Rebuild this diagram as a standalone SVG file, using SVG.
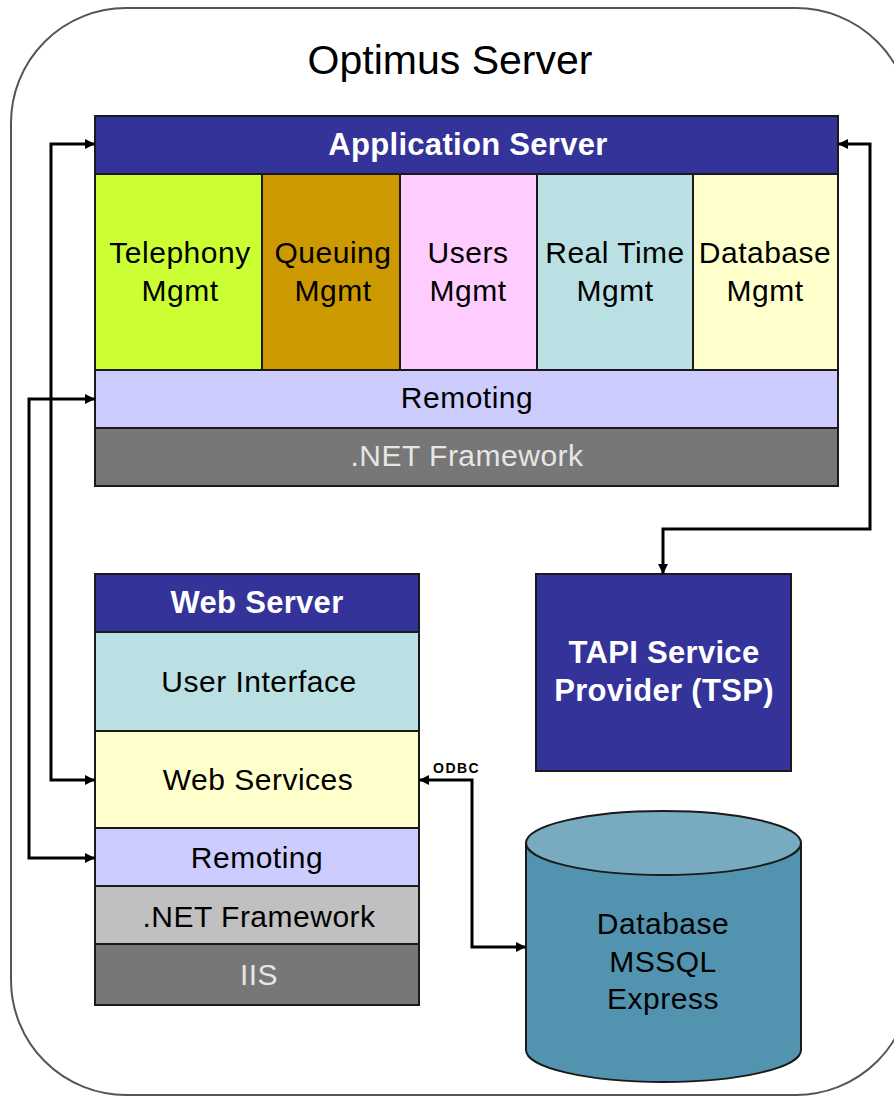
<svg xmlns="http://www.w3.org/2000/svg" width="894" height="1097" viewBox="0 0 894 1097">
<defs>
<marker id="ah" viewBox="0 0 10 10" refX="10" refY="5" markerWidth="10" markerHeight="10" markerUnits="userSpaceOnUse" orient="auto-start-reverse">
<path d="M0,0 L10,5 L0,10 z" fill="#000"/>
</marker>
<style>
.box{stroke:#1a1a1a;stroke-width:2}
.t{font-family:"Liberation Sans",Arial,sans-serif;font-size:30px;letter-spacing:0.5px;fill:#000;text-anchor:middle}
.w{fill:#fff;font-weight:bold;font-size:31px;letter-spacing:0.3px}
.lt{fill:#e6e6e6}
.c{fill:none;stroke:#000;stroke-width:3;marker-end:url(#ah);marker-start:url(#ah)}
</style>
</defs>
<rect width="894" height="1097" fill="#fff"/>
<g id="optimus-server">
<rect x="11" y="8" width="900" height="1087" rx="115" ry="115" fill="#fff" stroke="#555" stroke-width="2"/>
<text class="t" x="450" y="74" style="font-size:41px;letter-spacing:0">Optimus Server</text>
</g>
<g id="application-server">
<rect class="box" x="95" y="116" width="743" height="58" fill="#333399"/>
<text class="t w" x="468" y="155">Application Server</text>
<rect class="box" x="95" y="174" width="167" height="196" fill="#CCFF33"/>
<text class="t" x="180" y="263">Telephony</text><text class="t" x="180" y="301">Mgmt</text>
<rect class="box" x="262" y="174" width="138" height="196" fill="#CC9900"/>
<text class="t" x="333" y="263">Queuing</text><text class="t" x="333" y="301">Mgmt</text>
<rect class="box" x="400" y="174" width="137" height="196" fill="#FFCCFF"/>
<text class="t" x="468" y="263">Users</text><text class="t" x="468" y="301">Mgmt</text>
<rect class="box" x="537" y="174" width="156" height="196" fill="#BBE0E3"/>
<text class="t" x="615" y="263">Real Time</text><text class="t" x="615" y="301">Mgmt</text>
<rect class="box" x="693" y="174" width="145" height="196" fill="#FFFFCC"/>
<text class="t" x="765" y="263">Database</text><text class="t" x="765" y="301">Mgmt</text>
<rect class="box" x="95" y="370" width="743" height="58" fill="#CCCCFF"/>
<text class="t" x="467" y="408">Remoting</text>
<rect class="box" x="95" y="428" width="743" height="58" fill="#777777"/>
<text class="t lt" x="467" y="466">.NET Framework</text>
</g>
<g id="web-server">
<rect class="box" x="95" y="574" width="324" height="58" fill="#333399"/>
<text class="t w" x="257" y="613">Web Server</text>
<rect class="box" x="95" y="632" width="324" height="99" fill="#BBE0E3"/>
<text class="t" x="259" y="692">User Interface</text>
<rect class="box" x="95" y="731" width="324" height="97" fill="#FFFFCC"/>
<text class="t" x="258" y="790">Web Services</text>
<rect class="box" x="95" y="828" width="324" height="58" fill="#CCCCFF"/>
<text class="t" x="257" y="868">Remoting</text>
<rect class="box" x="95" y="886" width="324" height="58" fill="#C0C0C0"/>
<text class="t" x="259" y="927">.NET Framework</text>
<rect class="box" x="95" y="944" width="324" height="61" fill="#777777"/>
<text class="t lt" x="259" y="985">IIS</text>
</g>
<g id="tsp">
<rect class="box" x="536" y="574" width="255" height="197" fill="#333399"/>
<text class="t w" x="664" y="663">TAPI Service</text>
<text class="t w" x="664" y="701">Provider (TSP)</text>
</g>
<g id="database">
<path d="M526,843 L526,1050 A137.5,32 0 0 0 801,1050 L801,843 Z" fill="#5294B0" stroke="#1a1a1a" stroke-width="2"/>
<ellipse cx="663.5" cy="843" rx="137.5" ry="32" fill="#78AAC0" stroke="#1a1a1a" stroke-width="2"/>
<text class="t" x="663" y="934">Database</text>
<text class="t" x="663" y="972">MSSQL</text>
<text class="t" x="663" y="1009">Express</text>
</g>
<g id="connectors">
<path class="c" d="M95,780 L51,780 L51,144 L95,144"/>
<path class="c" d="M95,858 L29,858 L29,399 L95,399"/>
<path class="c" d="M838,144 L870,144 L870,529 L663,529 L663,574"/>
<path class="c" d="M526,947 L472,947 L472,780 L419,780"/>
<text x="433" y="773" style="font-family:'Liberation Sans',Arial,sans-serif;font-size:14px;font-weight:bold;fill:#000;letter-spacing:1.5px">ODBC</text>
</g>
</svg>
